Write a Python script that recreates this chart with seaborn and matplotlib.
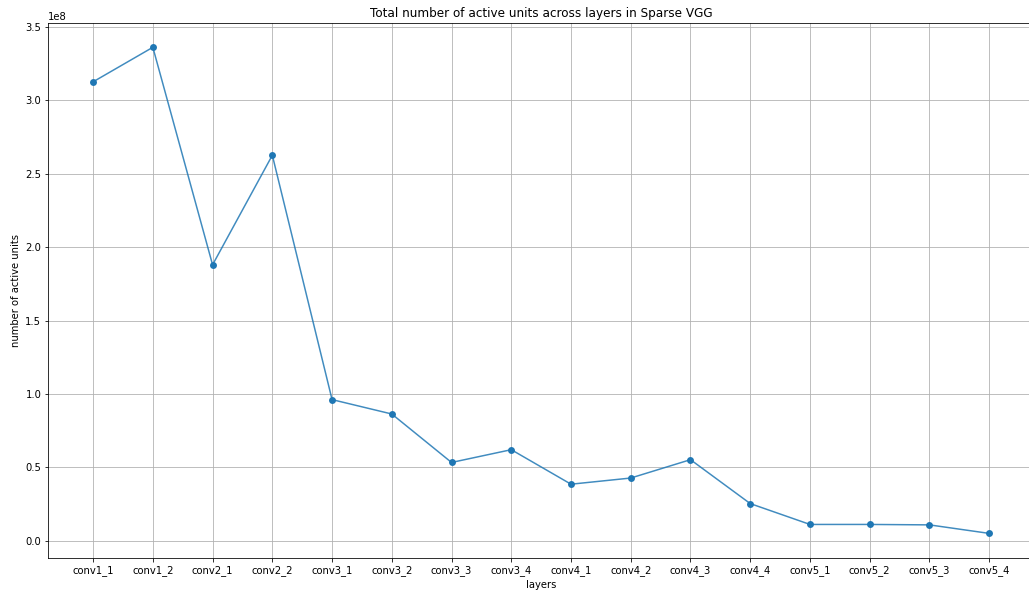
import matplotlib
matplotlib.use("Agg")
import matplotlib.pyplot as plt
import seaborn as sns
import pandas as pd

# Active unit counts per convolutional layer of the sparse VGG
layers = ["conv1_1", "conv1_2", "conv2_1", "conv2_2",
          "conv3_1", "conv3_2", "conv3_3", "conv3_4",
          "conv4_1", "conv4_2", "conv4_3", "conv4_4",
          "conv5_1", "conv5_2", "conv5_3", "conv5_4"]
active_units = [3.126e8, 3.361e8, 1.880e8, 2.626e8,
                0.962e8, 0.864e8, 0.534e8, 0.621e8,
                0.386e8, 0.428e8, 0.553e8, 0.254e8,
                0.112e8, 0.112e8, 0.109e8, 0.051e8]

df = pd.DataFrame({"layer": layers, "units": active_units})
df["pos"] = range(len(df))

plt.rcParams.update(plt.rcParamsDefault)
plt.rcParams["font.family"] = ["DejaVu Sans"]

W, H = 1029, 591
fig = plt.figure(figsize=(W / 72, H / 72), dpi=72)
left, right, top, bottom = 48.3, 1034.0, 23.0, 557.7
ax = fig.add_axes([left / W, (H - bottom) / H, (right - left) / W, (bottom - top) / H])

color = "#1f77b4"
sns.lineplot(data=df, x="pos", y="units", ax=ax, color=color, linewidth=1.5,
             alpha=0.85, zorder=3)
sns.scatterplot(data=df, x="pos", y="units", ax=ax, color=color, s=48,
                linewidth=0, zorder=4)

ax.set_xticks(df["pos"])
ax.set_xticklabels(layers)
ax.margins(x=0.05, y=0.05)
ax.grid(True, color="#b0b0b0", linewidth=0.8)
ax.set_axisbelow(True)
ax.set_title("Total number of active units across layers in Sparse VGG")
ax.set_xlabel("layers")
ax.set_ylabel("number of active units")
ax.spines["right"].set_visible(False)

fig.savefig("out.png", dpi=72)
